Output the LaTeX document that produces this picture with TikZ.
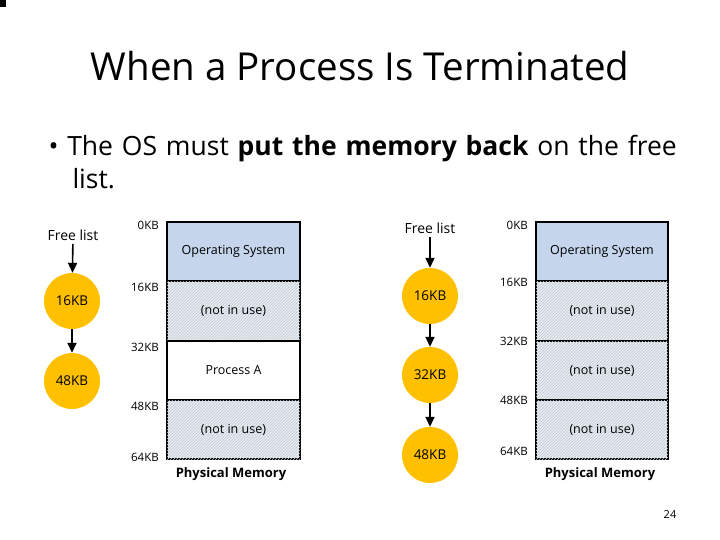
\documentclass[tikz,border=0pt]{standalone}
\usepackage{fontspec}
\setmainfont{Open Sans}
\usetikzlibrary{patterns,arrows.meta}
\definecolor{osblue}{HTML}{C5D6EC}
\definecolor{hatchbg}{HTML}{E6ECF2}
\definecolor{hatchln}{HTML}{C2CAD3}
\definecolor{circ}{HTML}{FFC000}
\begin{document}
\begin{tikzpicture}[x=1pt,y=-1pt,
  lbl/.style={font=\fontsize{11.5}{14}\selectfont, anchor=east, inner sep=0},
  fl/.style={circle, fill=circ, minimum size=56pt, inner sep=0, font=\fontsize{13.5}{16}\selectfont},
  arr/.style={-{Triangle[length=10pt,width=9pt]}, line width=1.6pt},
  blk/.style={draw=black, line width=1.6pt},
  free/.style={blk, fill=hatchbg, postaction={pattern=north east lines, pattern color=hatchln}},
  txt/.style={font=\fontsize{12.5}{15}\selectfont}]
\useasboundingbox (0,0) rectangle (720,540);
\fill (0,0) rectangle (6,7);
\node[font=\fontsize{38.5}{44}\selectfont] (title) at (360,66) {When a Process Is Terminated};
\node[font=\fontsize{26.5}{33}\selectfont, anchor=north west, align=left, text width=660pt] (b) at (45,132)
 {• The OS must \textbf{put the memory back} on the free\\\hspace{24pt}list.};
% left
\node[font=\fontsize{14}{16}\selectfont] (fl1) at (73,235) {Free list};
\node[fl] (a1) at (72,301) {16KB};
\node[fl] (a2) at (72,381) {48KB};
\draw[arr] (fl1) -- (a1);
\draw[arr] (a1) -- (a2);
\draw[blk, fill=osblue] (167,222) rectangle (300,281) node[midway,txt] (os1) {Operating System};
\draw[free] (167,281) rectangle (300,341) node[midway,txt] (n1) {(not in use)};
\draw[blk, fill=white] (167,341) rectangle (300,400) node[midway,txt] (p1) {Process A};
\draw[free] (167,400) rectangle (300,459) node[midway,txt] (n2) {(not in use)};
\node[lbl] (l0) at (159,225) {0KB};
\node[lbl] (l1) at (159,287) {16KB};
\node[lbl] (l2) at (159,347) {32KB};
\node[lbl] (l3) at (159,406) {48KB};
\node[lbl] (l4) at (159,457) {64KB};
\node[font=\bfseries\fontsize{13}{15}\selectfont] (pm1) at (231,474) {Physical Memory};
% right
\node[font=\fontsize{14}{16}\selectfont] (fl2) at (430,228) {Free list};
\node[fl] (c1) at (430,296) {16KB};
\node[fl] (c2) at (430,375) {32KB};
\node[fl] (c3) at (430,455) {48KB};
\draw[arr] (fl2) -- (c1);
\draw[arr] (c1) -- (c2);
\draw[arr] (c2) -- (c3);
\draw[blk, fill=osblue] (536,222) rectangle (668,281) node[midway,txt] (os2) {Operating System};
\draw[free] (536,281) rectangle (668,341) node[midway,txt] (m1) {(not in use)};
\draw[free] (536,341) rectangle (668,400) node[midway,txt] (m2) {(not in use)};
\draw[free] (536,400) rectangle (668,459) node[midway,txt] (m3) {(not in use)};
\node[lbl] (r0) at (528,225) {0KB};
\node[lbl] (r1) at (528,282) {16KB};
\node[lbl] (r2) at (528,341) {32KB};
\node[lbl] (r3) at (528,400) {48KB};
\node[lbl] (r4) at (528,451) {64KB};
\node[font=\bfseries\fontsize{13}{15}\selectfont] (pm2) at (600,474) {Physical Memory};
\node[font=\fontsize{11}{13}\selectfont] (pg) at (670,515) {24};
\end{tikzpicture}
\end{document}
